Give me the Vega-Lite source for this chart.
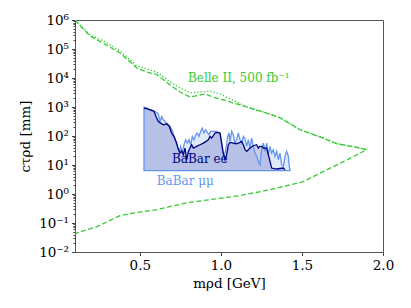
{
  "$schema": "https://vega.github.io/schema/vega-lite/v6.json",
  "width": 308,
  "height": 232,
  "autosize": {"type": "none"},
  "padding": {"left": 75, "top": 20, "right": 28, "bottom": 56},
  "background": "white",
  "config": {
    "font": "DejaVu Serif",
    "view": {"stroke": "#555", "strokeWidth": 1},
    "axis": {"grid": false, "labelFlush": false, "labelColor": "black", "titleColor": "black", "tickColor": "#444", "domainColor": "#555", "labelFont": "DejaVu Serif", "titleFont": "DejaVu Serif", "titleFontWeight": "normal"}
  },
  "datasets": {
    "ee": [
      {"m": 0.5257, "ct": 912}, {"m": 0.5524, "ct": 843}, {"m": 0.573, "ct": 759}, {"m": 0.5874, "ct": 701},
      {"m": 0.5997, "ct": 472}, {"m": 0.6141, "ct": 317}, {"m": 0.6285, "ct": 278}, {"m": 0.6449, "ct": 244},
      {"m": 0.6655, "ct": 264}, {"m": 0.6819, "ct": 214}, {"m": 0.6963, "ct": 126}, {"m": 0.7107, "ct": 96.7},
      {"m": 0.7272, "ct": 57}, {"m": 0.7375, "ct": 35.4}, {"m": 0.7477, "ct": 25.8}, {"m": 0.758, "ct": 31.1},
      {"m": 0.7683, "ct": 22.6}, {"m": 0.7786, "ct": 38.4}, {"m": 0.7889, "ct": 15.2}, {"m": 0.7992, "ct": 29.5},
      {"m": 0.8094, "ct": 38.4}, {"m": 0.8197, "ct": 50}, {"m": 0.83, "ct": 38.4}, {"m": 0.8506, "ct": 43.8},
      {"m": 0.8711, "ct": 50}, {"m": 0.8917, "ct": 57}, {"m": 0.9081, "ct": 65}, {"m": 0.9225, "ct": 74.3},
      {"m": 0.9328, "ct": 96.7}, {"m": 0.9431, "ct": 84.7}, {"m": 0.9534, "ct": 102}, {"m": 0.9637, "ct": 126},
      {"m": 0.9781, "ct": 133}, {"m": 0.9945, "ct": 126}, {"m": 1.0048, "ct": 57}, {"m": 1.0151, "ct": 25.8},
      {"m": 1.0254, "ct": 15.2}, {"m": 1.0356, "ct": 22.6}, {"m": 1.0459, "ct": 50}, {"m": 1.0562, "ct": 60.1},
      {"m": 1.0768, "ct": 57}, {"m": 1.0973, "ct": 54}, {"m": 1.1179, "ct": 60.1}, {"m": 1.1282, "ct": 65},
      {"m": 1.1385, "ct": 50}, {"m": 1.1487, "ct": 33.6}, {"m": 1.159, "ct": 29.5}, {"m": 1.1796, "ct": 38.4},
      {"m": 1.2001, "ct": 46.2}, {"m": 1.2207, "ct": 50}, {"m": 1.231, "ct": 38.4}, {"m": 1.2413, "ct": 43.8},
      {"m": 1.2515, "ct": 43.8}, {"m": 1.2618, "ct": 38.4}, {"m": 1.2824, "ct": 38.4}, {"m": 1.2927, "ct": 22.6},
      {"m": 1.303, "ct": 13.3}, {"m": 1.3132, "ct": 7.86}, {"m": 1.3441, "ct": 7.27}, {"m": 1.3852, "ct": 7.86},
      {"m": 1.3955, "ct": 6.9}
    ],
    "mumu": [
      {"m": 0.5257, "ct": 988}, {"m": 0.5421, "ct": 912}, {"m": 0.5627, "ct": 800}, {"m": 0.5832, "ct": 759},
      {"m": 0.6038, "ct": 647}, {"m": 0.6141, "ct": 582}, {"m": 0.6244, "ct": 317}, {"m": 0.6346, "ct": 472},
      {"m": 0.6449, "ct": 362}, {"m": 0.6655, "ct": 278}, {"m": 0.6861, "ct": 214}, {"m": 0.7025, "ct": 144},
      {"m": 0.7128, "ct": 84.7}, {"m": 0.7231, "ct": 57}, {"m": 0.7334, "ct": 38.4}, {"m": 0.7436, "ct": 29.5},
      {"m": 0.7519, "ct": 43.8}, {"m": 0.7621, "ct": 25.8}, {"m": 0.7724, "ct": 50}, {"m": 0.7827, "ct": 74.3},
      {"m": 0.793, "ct": 57}, {"m": 0.8033, "ct": 74.3}, {"m": 0.8136, "ct": 50}, {"m": 0.8238, "ct": 96.7},
      {"m": 0.8341, "ct": 74.3}, {"m": 0.8444, "ct": 110}, {"m": 0.8547, "ct": 126}, {"m": 0.865, "ct": 96.7},
      {"m": 0.8752, "ct": 144}, {"m": 0.8855, "ct": 187}, {"m": 0.8958, "ct": 126}, {"m": 0.9061, "ct": 164},
      {"m": 0.9164, "ct": 133}, {"m": 0.9266, "ct": 110}, {"m": 0.9369, "ct": 144}, {"m": 0.9534, "ct": 144},
      {"m": 0.9698, "ct": 144}, {"m": 0.9842, "ct": 133}, {"m": 0.9945, "ct": 126}, {"m": 1.0048, "ct": 50},
      {"m": 1.0151, "ct": 19.8}, {"m": 1.0254, "ct": 25.8}, {"m": 1.0356, "ct": 50}, {"m": 1.0418, "ct": 96.7},
      {"m": 1.05, "ct": 126}, {"m": 1.0562, "ct": 65}, {"m": 1.0665, "ct": 144}, {"m": 1.0768, "ct": 110},
      {"m": 1.0871, "ct": 57}, {"m": 1.0973, "ct": 74.3}, {"m": 1.1076, "ct": 126}, {"m": 1.1179, "ct": 74.3},
      {"m": 1.1282, "ct": 57}, {"m": 1.1385, "ct": 96.7}, {"m": 1.1487, "ct": 78.3}, {"m": 1.159, "ct": 43.8},
      {"m": 1.1693, "ct": 74.3}, {"m": 1.1796, "ct": 38.4}, {"m": 1.1899, "ct": 84.7}, {"m": 1.2001, "ct": 43.8},
      {"m": 1.2104, "ct": 25.8}, {"m": 1.2207, "ct": 19.8}, {"m": 1.231, "ct": 13.3}, {"m": 1.2413, "ct": 10.2},
      {"m": 1.2515, "ct": 33.6}, {"m": 1.2618, "ct": 57}, {"m": 1.2721, "ct": 29.5}, {"m": 1.2824, "ct": 57},
      {"m": 1.2927, "ct": 22.6}, {"m": 1.303, "ct": 43.8}, {"m": 1.3132, "ct": 25.8}, {"m": 1.3235, "ct": 33.6},
      {"m": 1.3338, "ct": 19.8}, {"m": 1.3441, "ct": 29.5}, {"m": 1.3544, "ct": 15.2}, {"m": 1.3646, "ct": 25.8},
      {"m": 1.3749, "ct": 10.2}, {"m": 1.3852, "ct": 8.97}, {"m": 1.3955, "ct": 19.8}, {"m": 1.4058, "ct": 29.5},
      {"m": 1.4161, "ct": 19.8}, {"m": 1.4222, "ct": 8.97}, {"m": 1.4263, "ct": 6.37}
    ],
    "belleDash": [
      {"i": 0, "m": 0.1, "ct": 1000000}, {"i": 1, "m": 0.1925, "ct": 280000}, {"i": 2, "m": 0.273, "ct": 160000},
      {"i": 3, "m": 0.378, "ct": 73000}, {"i": 4, "m": 0.482, "ct": 22000}, {"i": 5, "m": 0.544, "ct": 16000},
      {"i": 6, "m": 0.606, "ct": 13000}, {"i": 7, "m": 0.686, "ct": 5800}, {"i": 8, "m": 0.748, "ct": 3300},
      {"i": 9, "m": 0.809, "ct": 2200}, {"i": 10, "m": 0.902, "ct": 2800}, {"i": 11, "m": 0.951, "ct": 2200},
      {"i": 12, "m": 1.056, "ct": 1500}, {"i": 13, "m": 1.161, "ct": 1000}, {"i": 14, "m": 1.26, "ct": 680},
      {"i": 15, "m": 1.365, "ct": 425}, {"i": 16, "m": 1.488, "ct": 164}, {"i": 17, "m": 1.611, "ct": 94},
      {"i": 18, "m": 1.716, "ct": 54}, {"i": 19, "m": 1.815, "ct": 43}, {"i": 20, "m": 1.9, "ct": 34},
      {"i": 21, "m": 1.778, "ct": 15}, {"i": 22, "m": 1.63, "ct": 5.9}, {"i": 23, "m": 1.507, "ct": 2.66},
      {"i": 24, "m": 1.303, "ct": 1.41}, {"i": 25, "m": 1.118, "ct": 0.88}, {"i": 26, "m": 0.933, "ct": 0.64},
      {"i": 27, "m": 0.791, "ct": 0.5}, {"i": 28, "m": 0.606, "ct": 0.29}, {"i": 29, "m": 0.482, "ct": 0.23},
      {"i": 30, "m": 0.378, "ct": 0.18}, {"i": 31, "m": 0.236, "ct": 0.075}, {"i": 32, "m": 0.1, "ct": 0.043}
    ],
    "belleDot": [
      {"m": 0.1, "ct": 1000000}, {"m": 0.1925, "ct": 305000}, {"m": 0.273, "ct": 190000}, {"m": 0.378, "ct": 86000},
      {"m": 0.482, "ct": 26000}, {"m": 0.544, "ct": 20600}, {"m": 0.606, "ct": 16000}, {"m": 0.686, "ct": 7400},
      {"m": 0.748, "ct": 4600}, {"m": 0.809, "ct": 3100}, {"m": 0.871, "ct": 3300}, {"m": 0.933, "ct": 3500},
      {"m": 0.995, "ct": 2800}, {"m": 1.087, "ct": 1600}, {"m": 1.161, "ct": 1000}, {"m": 1.26, "ct": 680},
      {"m": 1.365, "ct": 425}, {"m": 1.488, "ct": 164}, {"m": 1.611, "ct": 94}, {"m": 1.716, "ct": 54},
      {"m": 1.815, "ct": 43}, {"m": 1.9, "ct": 34}
    ],
    "labels": [
      {"label": "Belle II, 500 fb⁻¹", "m": 0.797, "ct": 10000},
      {"label": "BaBar ee", "m": 0.698, "ct": 16.5},
      {"label": "BaBar μμ", "m": 0.604, "ct": 2.9}
    ]
  },
  "resolve": {"axis": {"y": "independent"}},
  "layer": [
    {
      "data": {"name": "ee"},
      "mark": {"type": "area", "fill": "#000080", "fillOpacity": 0.2, "clip": true},
      "encoding": {
        "x": {"field": "m", "type": "quantitative", "scale": {"domain": [0.1, 2.0], "nice": false, "zero": false},
              "axis": {"values": [0.5, 1.0, 1.5, 2.0], "format": ".1f", "tickSize": 3.5, "labelFontSize": 13.5, "labelPadding": 3, "title": "mρd [GeV]", "titleFontSize": 13.5, "titlePadding": 4}},
        "y": {"field": "ct", "type": "quantitative", "scale": {"type": "log", "domain": [0.01, 1000000], "nice": false},
              "axis": {"orient": "left", "values": [0.01, 0.1, 1, 10, 100, 1000, 10000, 100000, 1000000],
                       "labelExpr": "'10' + ['⁻²','⁻¹','⁰','¹','²','³','⁴','⁵','⁶'][round(log(datum.value)/LN10)+2]",
                       "tickSize": 3.5, "labelFontSize": 13.5, "labelPadding": 3, "title": "cτρd [mm]", "titleFontSize": 13.5, "titlePadding": 6}},
        "y2": {"datum": 6.37}
      }
    },
    {
      "data": {"name": "mumu"},
      "mark": {"type": "area", "fill": "#6495ED", "fillOpacity": 0.2, "stroke": "#6495ED", "strokeWidth": 1.3, "clip": true},
      "encoding": {
        "x": {"field": "m", "type": "quantitative"},
        "y": {"field": "ct", "type": "quantitative",
              "axis": {"orient": "left", "values": [0.02,0.03,0.04,0.05,0.06,0.07,0.08,0.09,0.2,0.3,0.4,0.5,0.6,0.7,0.8,0.9,2,3,4,5,6,7,8,9,20,30,40,50,60,70,80,90,200,300,400,500,600,700,800,900,2000,3000,4000,5000,6000,7000,8000,9000,20000,30000,40000,50000,60000,70000,80000,90000,200000,300000,400000,500000,600000,700000,800000,900000],
                       "labels": false, "tickSize": 2, "domain": false, "title": null}},
        "y2": {"datum": 6.37}
      }
    },
    {
      "data": {"name": "ee"},
      "mark": {"type": "line", "color": "#000080", "strokeWidth": 1.3, "clip": true},
      "encoding": {
        "x": {"field": "m", "type": "quantitative"},
        "y": {"field": "ct", "type": "quantitative", "axis": null}
      }
    },
    {
      "data": {"name": "belleDash"},
      "mark": {"type": "line", "color": "#33cc33", "strokeWidth": 1.3, "strokeDash": [5, 2.5], "clip": true},
      "encoding": {
        "x": {"field": "m", "type": "quantitative"},
        "y": {"field": "ct", "type": "quantitative", "axis": null},
        "order": {"field": "i", "type": "quantitative"}
      }
    },
    {
      "data": {"name": "belleDot"},
      "mark": {"type": "line", "color": "#33cc33", "strokeWidth": 1.3, "strokeDash": [1.3, 2], "clip": true},
      "encoding": {
        "x": {"field": "m", "type": "quantitative"},
        "y": {"field": "ct", "type": "quantitative", "axis": null}
      }
    },
    {
      "data": {"name": "labels"},
      "mark": {"type": "text", "align": "left", "baseline": "middle", "fontSize": 12, "font": "DejaVu Serif"},
      "encoding": {
        "x": {"field": "m", "type": "quantitative"},
        "y": {"field": "ct", "type": "quantitative", "axis": null},
        "text": {"field": "label"},
        "color": {"field": "label", "type": "nominal", "legend": null,
                  "scale": {"domain": ["Belle II, 500 fb⁻¹", "BaBar ee", "BaBar μμ"], "range": ["#33cc33", "#000080", "#6495ED"]}}
      }
    }
  ]
}
